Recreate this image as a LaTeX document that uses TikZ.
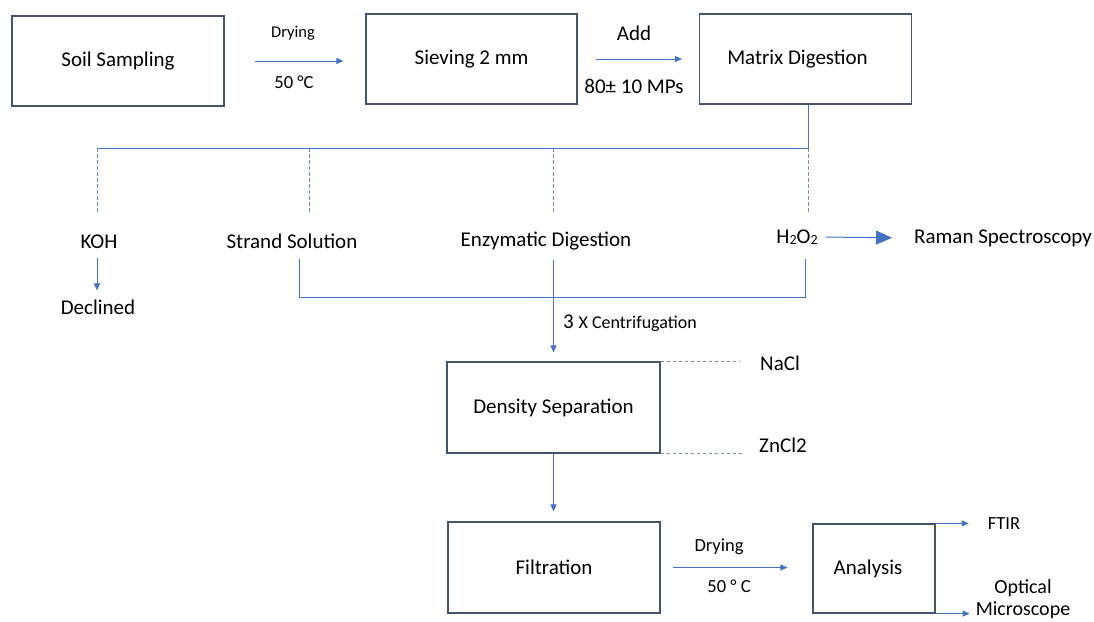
\documentclass[tikz,border=0pt]{standalone}
\usepackage{fontspec}
\setmainfont{Carlito}
\usetikzlibrary{arrows.meta}

\definecolor{flowblue}{RGB}{68,114,196}
\definecolor{boxgray}{RGB}{68,84,106}

\newcommand{\setfs}[1]{\fontsize{#1}{#1}\selectfont}
\newcommand{\chemsub}[1]{\raisebox{-1.5pt}{\fontsize{14}{14}\selectfont #1}}

\tikzset{
    box/.style={draw=boxgray, line width=1.2pt, minimum width=212pt, minimum height=90pt, inner sep=0pt, font=\setfs{21}},
    lbl/.style={inner sep=2pt, font=\setfs{21}},
    small/.style={inner sep=2pt, font=\setfs{18.5}},
    flow/.style={draw=flowblue, line width=1pt},
    arr/.style={flow, -{Triangle[length=7pt,width=6pt]}},
    dashline/.style={draw=flowblue!80, line width=0.8pt, dash pattern=on 3.5pt off 2.5pt},
}

\begin{document}
\begin{tikzpicture}[x=1pt, y=-1pt]
        \useasboundingbox (0,0) rectangle (1094,621);

        % Draw the process boxes
        \node[box] (soil) at (118,61) {Soil Sampling};
        \node[box, minimum width=211pt] (sieve) at (471.5,59) {Sieving 2 mm};
        \node[box] (matrix) at (805.5,59) {\hspace*{-16pt}Matrix Digestion};
        \node[box, minimum width=213pt, minimum height=91pt] (density) at (553.5,407.5) {Density Separation};
        \node[box, minimum height=91pt] (filt) at (554,567.5) {Filtration};
        \node[box, minimum width=122pt, minimum height=89pt] (analysis) at (874,568.5) {\hspace*{-12pt}Analysis};

        % Add the labels on the top arrows
        \node[lbl, font=\setfs{16.5}] (dry1) at (293,33) {Drying};
        \node[small] (temp1) at (294,82) {50 °C};
        \node[lbl] (add) at (634,33) {Add};
        \node[lbl] (mps) at (634,86) {80± 10 MPs};

        % Add the digestion options
        \node[lbl] (koh) at (99,242) {KOH};
        \node[lbl] (strand) at (292,241) {Strand Solution};
        \node[lbl] (enzym) at (546,241) {Enzymatic Digestion};
        \node[lbl] (hoo) at (797,237) {H\chemsub{2}O\chemsub{2}};
        \node[lbl] (raman) at (1003,238) {Raman Spectroscopy};
        \node[lbl] (declined) at (98,307) {Declined};
        \node[lbl, anchor=west] (centri) at (561,323) {3 {\setfs{18}X Centrifugation}};

        % Add the salts and the last labels
        \node[lbl] (nacl) at (780,363) {NaCl};
        \node[lbl] (zncl) at (783,445) {ZnCl2};
        \node[small] (dry2) at (719,547) {Drying};
        \node[small] (temp2) at (729,586) {50 ° C};
        \node[small] (ftir) at (1004,524) {FTIR};
        \node[lbl, font=\fontsize{20}{22}\selectfont, align=center] (optical) at (1023,599) {Optical\\Microscope};

        % Draw the top row arrows
        \draw[arr, shorten <=30pt, shorten >=22pt] (soil.east) -- (soil.east -| sieve.west);
        \draw[arr, shorten <=18pt, shorten >=17pt] (sieve.east) -- (sieve.east -| matrix.west);

        % Split the matrix digestion
        \foreach \n/\x in {koh/97, strand/309, enzym/553, hoo/808} {
            \coordinate (top-\n) at (\x,148);
            \coordinate (foot-\n) at (\x,212);
            \draw[dashline] (top-\n) -- (foot-\n);
        }
        \draw[flow] (matrix.south -| top-hoo) -- (top-hoo) -- (top-koh);
        \draw[arr, shorten <=7pt, shorten >=7pt] (koh.south -| top-koh) -- (declined.north -| top-koh);

        % Collect the solutions
        \coordinate (brL) at (299,297);
        \coordinate (brR) at (805,297);
        \draw[flow, shorten <=8pt, shorten >=8pt] (brL |- strand.south) -- (brL) -- (brR) -- (brR |- strand.south);
        \draw[arr, shorten <=8pt, shorten >=9pt] (density.north |- enzym.south) -- (density.north);
        \draw[flow, shorten <=6pt, shorten >=20pt, -{Triangle[length=16pt,width=14pt]}] (hoo.east) -- (raman.west);

        % Draw the density separation links
        \draw[dashline, shorten >=19pt] (density.north east) -- (density.north east -| nacl.west);
        \draw[dashline, shorten >=15pt] (density.south east) -- (density.south east -| zncl.west);
        \draw[arr, shorten >=10pt] (density.south) -- (density.south |- filt.north);
        \draw[arr, shorten <=12pt, shorten >=25pt] (filt.east) -- (filt.east -| analysis.west);
        \draw[arr, shorten >=17pt] (analysis.north east) -- (analysis.north east -| ftir.west);
        \draw[arr, shorten >=4pt] (analysis.south east) -- (analysis.south east -| optical.west);
    \end{tikzpicture}
\end{document}
